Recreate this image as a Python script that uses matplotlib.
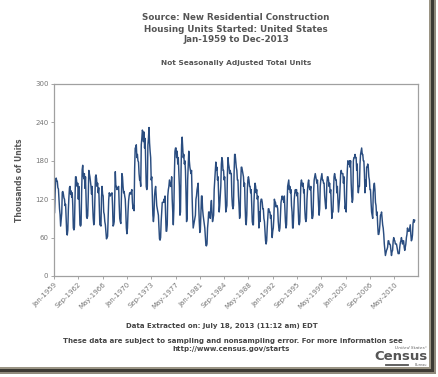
import matplotlib
matplotlib.use("Agg")
import matplotlib.pyplot as plt
from matplotlib.patches import Rectangle
from matplotlib.lines import Line2D

# Monthly housing starts, not seasonally adjusted (thousands of units), Jan-1959 .. Jun-2013
starts_by_year = {
    1959: [96, 99, 128, 151, 153, 148, 148, 138, 136, 120, 105, 96],
    1960: [78, 88, 98, 131, 132, 128, 122, 120, 110, 112, 88, 68],
    1961: [64, 72, 104, 123, 138, 140, 128, 133, 123, 130, 110, 75],
    1962: [72, 76, 120, 155, 155, 148, 140, 145, 120, 140, 110, 80],
    1963: [78, 80, 130, 166, 173, 158, 152, 160, 137, 155, 125, 92],
    1964: [90, 94, 123, 165, 160, 155, 148, 140, 128, 140, 110, 90],
    1965: [80, 84, 118, 155, 158, 152, 140, 145, 130, 138, 110, 80],
    1966: [80, 78, 122, 140, 128, 125, 100, 96, 85, 80, 70, 58],
    1967: [60, 62, 90, 118, 130, 128, 125, 128, 128, 130, 110, 78],
    1968: [80, 85, 125, 163, 140, 140, 135, 138, 138, 140, 112, 90],
    1969: [85, 82, 125, 160, 155, 140, 130, 132, 125, 120, 100, 75],
    1970: [66, 75, 100, 117, 125, 130, 130, 128, 132, 135, 115, 105],
    1971: [110, 102, 168, 200, 200, 205, 185, 190, 180, 178, 160, 150],
    1972: [150, 140, 205, 215, 228, 225, 210, 225, 200, 215, 175, 140],
    1973: [135, 140, 205, 215, 232, 208, 195, 185, 150, 155, 125, 95],
    1974: [85, 95, 125, 135, 140, 125, 110, 105, 100, 95, 75, 58],
    1975: [56, 60, 85, 100, 115, 115, 115, 120, 115, 125, 100, 70],
    1976: [70, 80, 125, 135, 140, 150, 145, 140, 140, 155, 120, 100],
    1977: [80, 105, 160, 195, 200, 200, 185, 195, 175, 185, 160, 140],
    1978: [95, 100, 165, 205, 217, 200, 185, 190, 175, 180, 165, 130],
    1979: [85, 90, 150, 175, 195, 180, 170, 165, 160, 165, 125, 95],
    1980: [75, 80, 85, 90, 95, 120, 125, 135, 140, 145, 110, 85],
    1981: [68, 72, 100, 125, 125, 105, 95, 88, 80, 75, 60, 48],
    1982: [47, 50, 75, 85, 100, 100, 95, 90, 110, 118, 100, 85],
    1983: [90, 95, 135, 150, 165, 178, 165, 170, 150, 155, 125, 100],
    1984: [110, 125, 140, 175, 185, 180, 165, 165, 150, 155, 130, 100],
    1985: [105, 110, 160, 185, 175, 170, 160, 165, 160, 160, 125, 110],
    1986: [105, 110, 160, 190, 190, 180, 170, 165, 150, 150, 125, 110],
    1987: [90, 95, 145, 170, 170, 165, 160, 155, 140, 145, 110, 85],
    1988: [80, 95, 135, 150, 155, 150, 140, 140, 130, 135, 110, 85],
    1989: [80, 80, 115, 135, 145, 140, 130, 135, 120, 125, 100, 75],
    1990: [100, 85, 115, 120, 120, 115, 105, 105, 90, 85, 70, 55],
    1991: [50, 55, 75, 90, 105, 105, 100, 100, 90, 95, 75, 60],
    1992: [70, 75, 90, 120, 115, 115, 108, 110, 110, 105, 85, 75],
    1993: [70, 75, 95, 115, 120, 125, 120, 120, 115, 125, 105, 85],
    1994: [75, 80, 110, 140, 145, 150, 135, 140, 130, 135, 110, 100],
    1995: [75, 75, 100, 120, 130, 135, 130, 135, 125, 130, 105, 85],
    1996: [80, 85, 120, 145, 150, 145, 140, 145, 130, 135, 105, 90],
    1997: [85, 90, 120, 135, 145, 150, 140, 135, 135, 140, 110, 90],
    1998: [90, 95, 130, 150, 155, 160, 155, 150, 145, 150, 130, 110],
    1999: [95, 105, 140, 150, 155, 160, 150, 150, 145, 145, 125, 115],
    2000: [105, 115, 145, 155, 155, 150, 140, 145, 130, 135, 110, 90],
    2001: [100, 100, 130, 155, 160, 155, 150, 150, 130, 140, 120, 100],
    2002: [110, 120, 140, 160, 165, 160, 160, 160, 145, 155, 125, 105],
    2003: [110, 100, 140, 165, 180, 175, 175, 180, 170, 180, 145, 125],
    2004: [115, 120, 180, 185, 185, 190, 185, 185, 165, 175, 140, 130],
    2005: [140, 140, 175, 190, 195, 200, 190, 190, 180, 180, 160, 130],
    2006: [150, 140, 170, 170, 175, 170, 155, 150, 135, 135, 115, 100],
    2007: [95, 90, 130, 140, 145, 135, 115, 110, 95, 100, 80, 65],
    2008: [65, 70, 80, 95, 95, 100, 90, 80, 75, 65, 50, 40],
    2009: [32, 36, 40, 42, 45, 55, 55, 50, 50, 48, 40, 32],
    2010: [38, 40, 54, 60, 56, 55, 50, 50, 50, 45, 40, 35],
    2011: [35, 35, 45, 52, 55, 60, 55, 50, 55, 55, 45, 40],
    2012: [45, 50, 60, 65, 75, 70, 70, 70, 75, 80, 65, 55],
    2013: [57, 64, 82, 88, 84, 87],
}

tick_labels = ["Jan-1959", "Sep-1962", "May-1966", "Jan-1970", "Sep-1973",
               "May-1977", "Jan-1981", "Sep-1984", "May-1988", "Jan-1992",
               "Sep-1995", "May-1999", "Jan-2003", "Sep-2006", "May-2010"]
y_ticks = [0, 60, 120, 180, 240, 300]

values = []
for yr in sorted(starts_by_year):
    values.extend(starts_by_year[yr])
months = list(range(len(values)))

W, H = 439, 377
fig = plt.figure(figsize=(W / 100, H / 100), dpi=100)
fig.patch.set_facecolor("white")

ax = fig.add_axes([54 / W, 1 - 276 / H, (418 - 54) / W, (276 - 84) / H])
ax.plot(months, values, color="#2a4d80", lw=1.05, solid_joinstyle="round")
ax.set_xlim(0, 659)
ax.set_ylim(0, 300)
ax.set_yticks(y_ticks)
ax.set_yticklabels([str(v) for v in y_ticks])
ax.set_xticks([i * 44 for i in range(len(tick_labels))])
ax.set_xticklabels(tick_labels, rotation=45, ha="right", va="top",
                   rotation_mode="anchor")
ax.tick_params(axis="both", labelsize=5, colors="#999999", labelcolor="#777777",
               length=2, width=0.6, pad=2)
for s in ax.spines.values():
    s.set_color("#a0a0a0")
    s.set_linewidth(0.9)

ax.set_ylabel("Thousands of Units", fontsize=5.5, fontweight="bold",
              color="#555555", labelpad=8)

tc = "#555555"
cx = 236 / W
fig.text(cx, 1 - 17 / H, "Source: New Residential Construction", ha="center",
         va="center", fontsize=6.3, fontweight="bold", color=tc)
fig.text(cx, 1 - 29 / H, "Housing Units Started: United States", ha="center",
         va="center", fontsize=6.3, fontweight="bold", color=tc)
fig.text(cx, 1 - 40 / H, "Jan-1959 to Dec-2013", ha="center",
         va="center", fontsize=6.3, fontweight="bold", color=tc)
fig.text(cx, 1 - 63 / H, "Not Seasonally Adjusted Total Units", ha="center",
         va="center", fontsize=5.3, fontweight="bold", color=tc)

fig.text(222 / W, 1 - 326 / H, "Data Extracted on: July 18, 2013 (11:12 am) EDT",
         ha="center", va="center", fontsize=5.0, fontweight="bold", color="#444444")
fig.text(233 / W, 1 - 341 / H,
         "These data are subject to sampling and nonsampling error. For more information see",
         ha="center", va="center", fontsize=5.0, fontweight="bold", color="#444444")
fig.text(231 / W, 1 - 349 / H, "http://www.census.gov/starts",
         ha="center", va="center", fontsize=5.0, fontweight="bold", color="#444444")

# Census logo (text)
fig.text(427 / W, 1 - 348 / H, "United States\u00b0", ha="right", va="center",
         fontsize=3.2, color="#666666", style="italic")
fig.text(428 / W, 1 - 357 / H, "Census", ha="right", va="center",
         fontsize=9.5, fontweight="bold", color="#555555",
         family=["Liberation Sans Narrow", "DejaVu Sans"])
fig.add_artist(Line2D([386 / W, 408 / W], [1 - 365 / H, 1 - 365 / H],
                      color="#555555", lw=1.3))
fig.text(427 / W, 1 - 365.5 / H, "Bureau", ha="right", va="center",
         fontsize=2.5, color="#666666")

# screenshot frame / shadow
fig.add_artist(Rectangle((429 / W, 1 - 372 / H), 2 / W, 372 / H,
                         color="#9a9484", lw=0))
fig.add_artist(Rectangle((431 / W, 1 - 373 / H), 3 / W, 373 / H,
                         color="#3c3a34", lw=0))
fig.add_artist(Rectangle((434 / W, 1 - 374 / H), 2 / W, 374 / H,
                         color="#8f8a7c", lw=0))
fig.add_artist(Rectangle((0, 1 - 369 / H), 431 / W, 2 / H,
                         color="#9a9484", lw=0))
fig.add_artist(Rectangle((0, 1 - 372 / H), 434 / W, 3 / H,
                         color="#3c3a34", lw=0))
fig.add_artist(Rectangle((0, 1 - 374 / H), 436 / W, 2 / H,
                         color="#8f8a7c", lw=0))

fig.savefig("out.png", dpi=100, facecolor="white")
